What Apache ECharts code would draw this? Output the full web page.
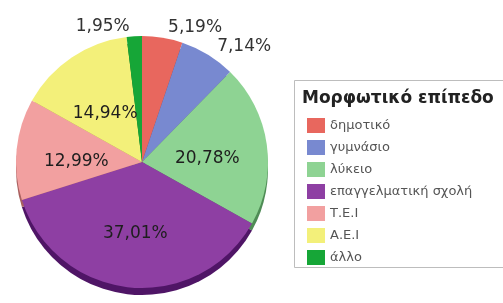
<!DOCTYPE html>
<html>
<head>
<meta charset="utf-8">
<script src="https://cdn.jsdelivr.net/npm/echarts@6/dist/echarts.min.js"></script>
<style>html,body{margin:0;padding:0;background:#fff}#c{width:503px;height:303px}</style>
</head>
<body>
<div id="c"></div>
<script>
const legendTitle = 'Μορφωτικό επίπεδο';
const categories = ['δημοτικό', 'γυμνάσιο', 'λύκειο', 'επαγγελματική σχολή', 'Τ.Ε.Ι', 'Α.Ε.Ι', 'άλλο'];
const values = [5.19, 7.14, 20.78, 37.01, 12.99, 14.94, 1.95];
const colors = ['#E8675E', '#7889D0', '#8ED393', '#8E3FA3', '#F2A0A0', '#F3F07A', '#16A637'];
const depthColors = ['#9E3A33', '#46528A', '#4E8C55', '#4F1566', '#A8605F', '#A8A43C', '#0B6A20'];
const outsideSet = ['δημοτικό', 'γυμνάσιο', 'άλλο'];

const chart = echarts.init(document.getElementById('c'));
const fmt = v => v.toFixed(2).replace('.', ',') + '%';

const data = categories.map((n, i) => {
  const outside = outsideSet.includes(n);
  return {
    name: n,
    value: values[i],
    itemStyle: { color: colors[i] },
    label: outside
      ? { position: 'outside', color: '#333' }
      : { position: 'inside', color: '#1e1e1e', offset: [0, 6] }
  };
});
const depthData = categories.map((n, i) => ({ name: n + ' ', value: values[i], itemStyle: { color: depthColors[i] } }));

chart.setOption({
  animation: false,
  backgroundColor: '#fff',
  graphic: [
    { type: 'rect', shape: { x: 294.5, y: 80.5, width: 220, height: 187 }, style: { fill: '#fff', stroke: '#BDBDBD', lineWidth: 1 }, z: -1 },
    { type: 'text', left: 302, top: 90, style: { text: legendTitle, font: 'bold 17px "DejaVu Sans"', fill: '#222' } }
  ],
  legend: {
    orient: 'vertical',
    left: 302,
    top: 113,
    itemWidth: 18,
    itemHeight: 15,
    itemGap: 7,
    icon: 'rect',
    selectedMode: false,
    data: categories,
    textStyle: { fontFamily: 'DejaVu Sans', fontSize: 13, color: '#555' }
  },
  series: [
    {
      type: 'pie',
      center: [142, 162],
      radius: 126,
      startAngle: 90,
      clockwise: true,
      avoidLabelOverlap: false,
      label: {
        fontFamily: 'DejaVu Sans',
        fontSize: 17,
        formatter: p => fmt(p.value),
        distanceToLabelLine: 4
      },
      labelLine: { show: false, length: 10, length2: 0 },
      data: data,
      z: 2
    },
    {
      type: 'pie',
      silent: true,
      center: [142, 169],
      radius: 126,
      startAngle: 90,
      clockwise: true,
      label: { show: false },
      labelLine: { show: false },
      data: depthData,
      z: 1,
      legendHoverLink: false
    }
  ]
});
</script>
</body>
</html>
